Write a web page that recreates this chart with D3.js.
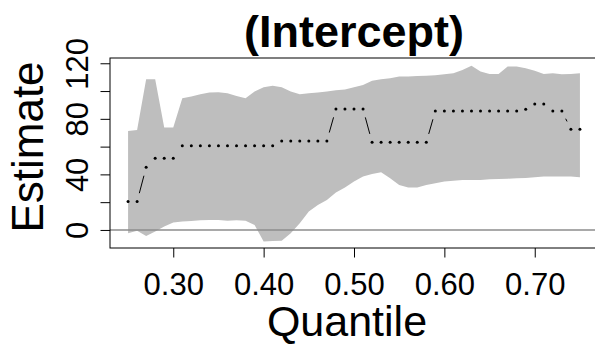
<!DOCTYPE html>
<html>
<head>
<meta charset="utf-8">
<script src="https://cdn.jsdelivr.net/npm/d3@7"></script>
<style>
  body { margin: 0; background: #fff; }
  svg { display: block; font-family: "Liberation Sans", Arial, sans-serif; }
</style>
</head>
<body>
<div id="chart"></div>
<script>
// quantiles 0.25 .. 0.75 by 0.01
const taus = [0.25, 0.26, 0.27, 0.28, 0.29, 0.30, 0.31, 0.32, 0.33, 0.34, 0.35,
  0.36, 0.37, 0.38, 0.39, 0.40, 0.41, 0.42, 0.43, 0.44, 0.45, 0.46, 0.47, 0.48,
  0.49, 0.50, 0.51, 0.52, 0.53, 0.54, 0.55, 0.56, 0.57, 0.58, 0.59, 0.60, 0.61,
  0.62, 0.63, 0.64, 0.65, 0.66, 0.67, 0.68, 0.69, 0.70, 0.71, 0.72, 0.73, 0.74, 0.75];

// intercept estimate per quantile
const estimate = [20.4, 20.4, 45.1, 51.6, 51.6, 51.6, 60.7, 60.7, 60.7, 60.7, 60.7,
  60.7, 60.7, 60.7, 60.7, 60.7, 60.7, 64.1, 64.1, 64.1, 64.1, 64.1, 64.1, 87.1,
  87.1, 87.1, 87.1, 63.1, 63.1, 63.1, 63.1, 63.1, 63.1, 63.1, 85.7, 85.7, 85.7,
  85.7, 85.7, 85.7, 85.7, 85.7, 85.7, 85.7, 86.9, 90.7, 90.7, 85.7, 85.7, 72.5, 72.5];

// confidence band
const upper = [71.3, 72.0, 108.5, 108.5, 73.7, 73.7, 94.8, 96.0, 97.7, 98.9, 99.1,
  98.4, 96.5, 94.8, 99.6, 102.7, 103.9, 102.7, 99.6, 97.7, 98.4, 98.9, 99.6, 100.5,
  101.2, 102.7, 104.4, 107.5, 108.5, 109.2, 110.4, 110.4, 110.9, 111.1, 111.4, 112.1, 112.8,
  115.2, 118.3, 114.0, 112.3, 112.3, 117.6, 117.6, 116.4, 114.7, 112.3, 112.8, 112.1, 112.3, 112.8];
const lower = [-2.4, -0.5, -4.3, -1.2, 2.4, 5.3, 6.0, 6.5, 7.0, 7.2, 7.2,
  6.7, 7.0, 6.7, 3.6, -8.4, -7.9, -7.7, -2.4, 4.8, 13.2, 18.0, 21.6, 27.0,
  30.5, 34.8, 38.4, 40.3, 41.5, 37.2, 32.4, 30.5, 30.5, 32.4, 33.6, 34.8, 35.5,
  36.0, 36.0, 36.0, 36.5, 36.7, 36.9, 37.2, 37.4, 37.9, 38.4, 38.4, 38.4, 38.4, 37.9];

const xTicks = [0.30, 0.40, 0.50, 0.60, 0.70];
const yTicks = [0, 20, 40, 60, 80, 100, 120];
const yLabels = [0, 40, 80, 120];

const data = taus.map((t, i) => ({ tau: t, est: estimate[i], lo: lower[i], hi: upper[i] }));

const W = 595, H = 345;
// plot box runs a few px past the right edge, like the original
const margin = { top: 58, right: -3, bottom: 97, left: 110 };
const width = W - margin.left - margin.right;
const height = H - margin.top - margin.bottom;

const svg = d3.select("#chart").append("svg")
  .attr("width", W)
  .attr("height", H);

const g = svg.append("g").attr("transform", `translate(${margin.left},${margin.top})`);

// R style 4% padding on both axes
const x = d3.scaleLinear().domain([0.23, 0.77]).range([0, width]);
const y = d3.scaleLinear().domain([-13, 123.8]).range([height, 0]);

// grey band
g.append("path")
  .datum(data)
  .attr("fill", "#bebebe")
  .attr("d", d3.area().x(d => x(d.tau)).y0(d => y(d.lo)).y1(d => y(d.hi)));

// zero line
g.append("line")
  .attr("x1", 0).attr("x2", width)
  .attr("y1", y(0)).attr("y2", y(0))
  .attr("stroke", "#8c8c8c")
  .attr("stroke-width", 1.5);

// type "b" style: segments with gaps around points
const gap = 8.7;
for (let i = 0; i < data.length - 1; i++) {
  const x0 = x(data[i].tau), y0 = y(data[i].est);
  const x1 = x(data[i + 1].tau), y1 = y(data[i + 1].est);
  const len = Math.hypot(x1 - x0, y1 - y0);
  if (len <= 2 * gap) continue;
  const ux = (x1 - x0) / len, uy = (y1 - y0) / len;
  g.append("line")
    .attr("x1", x0 + ux * gap).attr("y1", y0 + uy * gap)
    .attr("x2", x1 - ux * gap).attr("y2", y1 - uy * gap)
    .attr("stroke", "#000")
    .attr("stroke-width", 1);
}

g.selectAll(".pt")
  .data(data)
  .enter()
  .append("circle")
  .attr("class", "pt")
  .attr("cx", d => x(d.tau))
  .attr("cy", d => y(d.est))
  .attr("r", 1.5)
  .attr("fill", "#000");

// box
g.append("rect")
  .attr("x", 0).attr("y", 0)
  .attr("width", width).attr("height", height)
  .attr("fill", "none")
  .attr("stroke", "#000")
  .attr("stroke-width", 1);

// x axis
const xAxis = g.append("g")
  .attr("transform", `translate(0,${height})`)
  .call(d3.axisBottom(x).tickValues(xTicks).tickSize(9.5).tickFormat(d3.format(".2f")).tickSizeOuter(0));
xAxis.select(".domain").remove();
xAxis.selectAll("line").attr("stroke", "#000");
xAxis.selectAll("text")
  .attr("y", null).attr("dy", null)
  .attr("transform", "translate(0,47)")
  .attr("font-size", 31)
  .attr("font-family", "Liberation Sans, Arial, sans-serif")
  .attr("fill", "#000");

// y axis, labels only every other tick
const yAxis = g.append("g")
  .call(d3.axisLeft(y).tickValues(yTicks).tickSize(9.5).tickFormat(d => yLabels.includes(d) ? d : "").tickSizeOuter(0));
yAxis.select(".domain").remove();
yAxis.selectAll("line").attr("stroke", "#000");
yAxis.selectAll("text")
  .attr("x", null).attr("dy", null)
  .attr("text-anchor", "middle")
  .attr("transform", "translate(-22,0) rotate(-90)")
  .attr("font-size", 31)
  .attr("font-family", "Liberation Sans, Arial, sans-serif")
  .attr("fill", "#000");

// title and axis labels
svg.append("text")
  .attr("x", 354).attr("y", 47)
  .attr("text-anchor", "middle")
  .attr("font-size", 45)
  .attr("font-weight", "bold")
  .text("(Intercept)");

svg.append("text")
  .attr("x", 347).attr("y", 336)
  .attr("text-anchor", "middle")
  .attr("font-size", 43)
  .text("Quantile");

svg.append("text")
  .attr("transform", "translate(43,147) rotate(-90)")
  .attr("text-anchor", "middle")
  .attr("font-size", 44)
  .text("Estimate");
</script>
</body>
</html>
